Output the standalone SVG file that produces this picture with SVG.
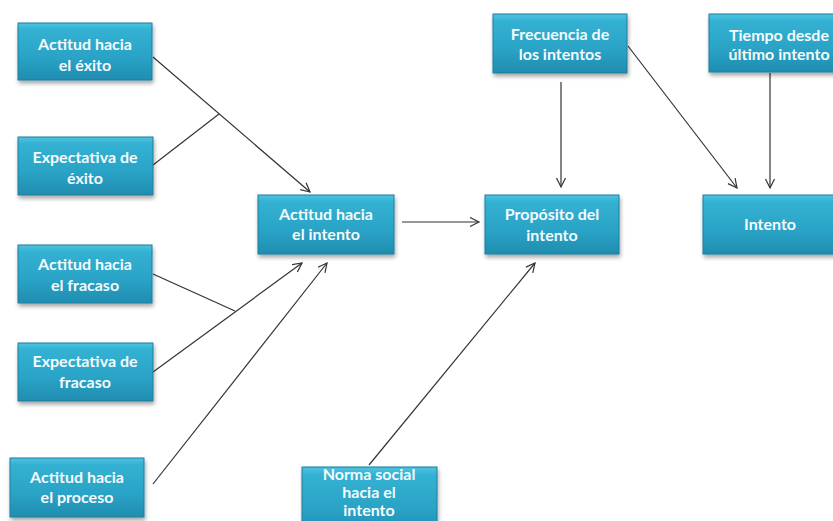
<svg xmlns="http://www.w3.org/2000/svg" width="833" height="521" viewBox="0 0 833 521">
<defs>
<linearGradient id="g" x1="0" y1="0" x2="0" y2="1">
<stop offset="0" stop-color="#4fc3e0"/>
<stop offset="0.12" stop-color="#33b1d2"/>
<stop offset="0.6" stop-color="#2aa3c6"/>
<stop offset="1" stop-color="#1f8db0"/>
</linearGradient>
<filter id="sh" x="-10%" y="-10%" width="125%" height="135%">
<feGaussianBlur in="SourceAlpha" stdDeviation="2"/>
<feOffset dx="1" dy="3"/>
<feComponentTransfer><feFuncA type="linear" slope="0.35"/></feComponentTransfer>
<feMerge><feMergeNode/><feMergeNode in="SourceGraphic"/></feMerge>
</filter>
<marker id="arr" markerUnits="userSpaceOnUse" markerWidth="12" markerHeight="12" refX="10" refY="5" orient="auto">
<path d="M1,0.5 L10,5 L1,9.5" fill="none" stroke="#333" stroke-width="1.2"/>
</marker>
</defs>
<style>
.box{fill:url(#g);stroke:#1c7f9e;stroke-width:1;filter:url(#sh)}
.t{font-family:Lato,"Liberation Sans",sans-serif;font-weight:bold;font-size:16px;fill:#f4fbfd;text-anchor:middle}
.c line{stroke:#333;stroke-width:1.2;fill:none}
.a{marker-end:url(#arr)}
</style>
<rect width="833" height="521" fill="#ffffff"/>
<g class="c" id="connectors">
<line class="a" x1="153" y1="57" x2="310" y2="192"/>
<line x1="153" y1="165" x2="219" y2="114"/>
<line x1="153" y1="274" x2="235" y2="311"/>
<line class="a" x1="153" y1="372" x2="302" y2="263"/>
<line class="a" x1="153" y1="484" x2="327" y2="263"/>
<line class="a" x1="402" y1="222" x2="479" y2="222"/>
<line class="a" x1="561" y1="82" x2="561" y2="187"/>
<line class="a" x1="628" y1="46" x2="737" y2="188"/>
<line class="a" x1="770" y1="73" x2="770" y2="188"/>
<line class="a" x1="369" y1="465" x2="535" y2="263"/>
</g>
<g id="n1"><rect class="box" x="18" y="23" width="134" height="57"/><text class="t" x="85" y="50">Actitud hacia</text><text class="t" x="85" y="71">el éxito</text></g>
<g id="n2"><rect class="box" x="18" y="137" width="135" height="58"/><text class="t" x="85" y="163">Expectativa de</text><text class="t" x="85" y="184">éxito</text></g>
<g id="n3"><rect class="box" x="18" y="245" width="134" height="58"/><text class="t" x="85" y="270">Actitud hacia</text><text class="t" x="85" y="291">el fracaso</text></g>
<g id="n4"><rect class="box" x="18" y="343" width="135" height="58"/><text class="t" x="85" y="367">Expectativa de</text><text class="t" x="85" y="388">fracaso</text></g>
<g id="n5"><rect class="box" x="10" y="458" width="134" height="59"/><text class="t" x="77" y="483">Actitud hacia</text><text class="t" x="77" y="503">el proceso</text></g>
<g id="n6"><rect class="box" x="258" y="195" width="136" height="59"/><text class="t" x="326" y="220">Actitud hacia</text><text class="t" x="326" y="240">el intento</text></g>
<g id="n7"><rect class="box" x="485" y="195" width="134" height="59"/><text class="t" x="552" y="220">Propósito del</text><text class="t" x="552" y="241">intento</text></g>
<g id="n8"><rect class="box" x="493" y="14" width="134" height="59"/><text class="t" x="560" y="40">Frecuencia de</text><text class="t" x="560" y="60">los intentos</text></g>
<g id="n9"><rect class="box" x="709" y="14" width="140" height="58"/><text class="t" x="779" y="41">Tiempo desde</text><text class="t" x="779" y="60">último intento</text></g>
<g id="n10"><rect class="box" x="703" y="195" width="140" height="59"/><text class="t" x="770" y="230">Intento</text></g>
<g id="n11"><rect class="box" x="302" y="467" width="135" height="70"/><text class="t" x="369" y="480">Norma social</text><text class="t" x="369" y="498">hacia el</text><text class="t" x="369" y="516">intento</text></g>
</svg>
